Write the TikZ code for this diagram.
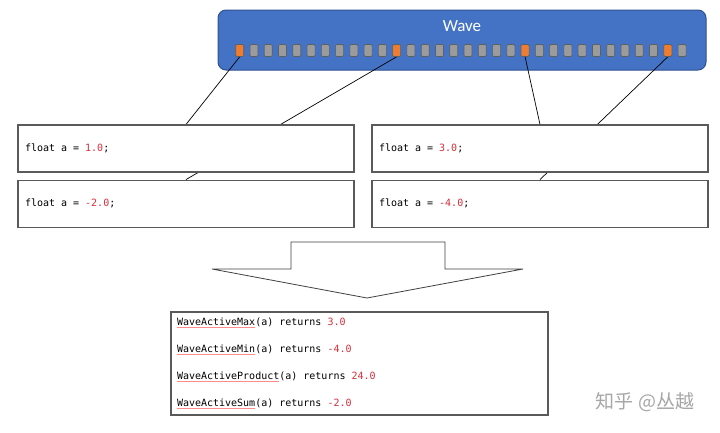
\documentclass[tikz,border=0pt]{standalone}
\usepackage{fontspec}
\setmainfont{Carlito}
\newfontfamily\codefont{DejaVu Sans Mono}
\newfontfamily\cjkfont{Noto Sans CJK SC}
\usepackage{tikz}
\usetikzlibrary{positioning}

\definecolor{wavefill}{HTML}{4472C4}
\definecolor{waveedge}{HTML}{2F528F}
\definecolor{lanegray}{HTML}{9B9B9B}
\definecolor{laneedge}{HTML}{5F5F5F}
\definecolor{laneorange}{HTML}{ED7D31}
\definecolor{numred}{HTML}{D62F3C}
\definecolor{boxedge}{HTML}{5A5A5A}

\newcommand{\num}[1]{\textcolor{numred}{#1}}
\newcommand{\fn}[1]{\textcolor{red!45}{\underline{\textcolor{black}{#1}}}}

\pgfdeclarelayer{waveback}
\pgfdeclarelayer{links}
\pgfsetlayers{waveback,links,main}

\begin{document}
\begin{tikzpicture}[
        x=1pt, y=-1pt,
        node distance=7pt and 18pt,
        wavebox/.style={rectangle, rounded corners=8pt, draw=waveedge, line width=1pt, fill=wavefill, minimum width=488pt, minimum height=60pt},
        wavetitle/.style={text=white, font=\fontsize{17}{20}\selectfont},
        lane/.style={rectangle, rounded corners=1.2pt, draw=laneedge, line width=0.6pt, minimum width=8pt, minimum height=12pt, inner sep=0pt},
        codebox/.style={rectangle, draw=boxedge, line width=1.1pt, fill=white, minimum height=47pt, text width=322pt, inner xsep=7pt, align=flush left, font=\codefont\fontsize{10}{12}\selectfont},
        resultbox/.style={rectangle, draw=boxedge, line width=1.1pt, fill=white, minimum height=103pt, text width=365pt, inner xsep=6pt, align=flush left, font=\codefont\fontsize{10}{27}\selectfont},
        bigarrow/.style={draw=black!75, line width=0.8pt, fill=white, line join=miter},
        link/.style={draw=black, line width=0.7pt},
        credit/.style={text=black!35, font=\cjkfont\fontsize{19}{19}\selectfont}
    ]
        \useasboundingbox (0,0) rectangle (720,432);

        % the wave and its 32 lanes
        \begin{pgfonlayer}{waveback}
            \node[wavebox] (wave) at (462,40) {};
        \end{pgfonlayer}
        \node[wavetitle] (wavetitle) at (462,26) {Wave};
        \foreach \i in {0,...,31} {
            \pgfmathtruncatemacro\hot{(\i==0)+(\i==11)+(\i==20)+(\i==30)}
            \ifnum\hot>0 \colorlet{lanefill}{laneorange}\else \colorlet{lanefill}{lanegray}\fi
            \node[lane, fill=lanefill] (lane\i) at ({239.7+\i*14.27},50.5) {};
        }

        % values held by the active lanes
        \node[codebox] (valA) at (186,148.5) {float a = \num{1.0};};
        \node[codebox, below=of valA] (valB) {float a = \num{-2.0};};
        \node[codebox] (valC) at (540,148.5) {float a = \num{3.0};};
        \node[codebox, below=of valC] (valD) {float a = \num{-4.0};};

        \begin{pgfonlayer}{links}
            \draw[link] (lane0.south) -- (valA.north);
            \draw[link] (lane11.south) -- (valB.north);
            \draw[link] (lane20.south) -- (valC.north);
            \draw[link] (lane30.south) -- (valD.north);
        \end{pgfonlayer}

        % reduction
        \draw[bigarrow] (291,242) -- (445,242) -- (445,269) -- (523,269) -- (367,298) -- (212,269) -- (291,269) -- cycle;

        \node[resultbox] (results) at (359.5,363.5) {%
            \fn{WaveActiveMax}(a) returns \num{3.0}\\
            \fn{WaveActiveMin}(a) returns \num{-4.0}\\
            \fn{WaveActiveProduct}(a) returns \num{24.0}\\
            \fn{WaveActiveSum}(a) returns \num{-2.0}};

        \node[credit] (credit) at (645,402) {知乎 @丛越};
    \end{tikzpicture}
\end{document}
